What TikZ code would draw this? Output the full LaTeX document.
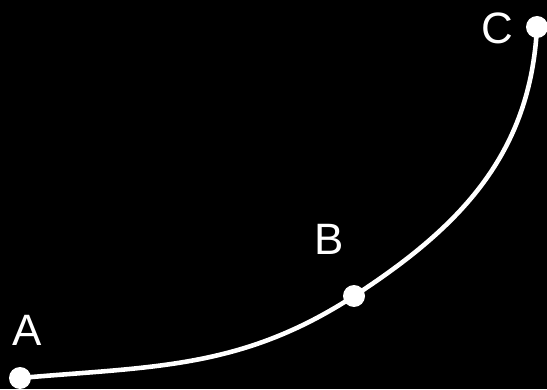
\documentclass[tikz,border=0pt]{standalone}
\usepackage{fontspec}
\setmainfont{Liberation Sans}
\usepackage{tikz}
\usetikzlibrary{positioning}
\definecolor{mybg}{RGB}{0,0,0}
\definecolor{mywhite}{RGB}{255,255,255}
\tikzset{
  dot/.style={circle, fill=mywhite, inner sep=0pt, minimum size=0.44cm},
  ptlabel/.style={text=mywhite, font=\fontsize{25}{25}\selectfont, inner sep=0pt},
  curve/.style={draw=mywhite, line width=2.6pt}
}
\begin{document}
\begin{tikzpicture}[x=0.02cm, y=0.02cm]
    \fill[mybg] (0,0) rectangle (547,389);
    \useasboundingbox (0,0) rectangle (547,389);
    \coordinate (pa) at (20,11);
    \coordinate (pb) at (354,93);
    \coordinate (pc) at (537,362);
    \draw[curve] (pa) node[dot] (a) {} to[out=5, in=213] (pb) node[dot] (b) {}
      to[out=33, in=-93] (pc) node[dot] (c) {};
    \node[ptlabel] (la) at (27,59) {A};
    \node[ptlabel] (lb) at (329,150) {B};
    \node[ptlabel] (lc) at (497,361) {C};
  \end{tikzpicture}
\end{document}
